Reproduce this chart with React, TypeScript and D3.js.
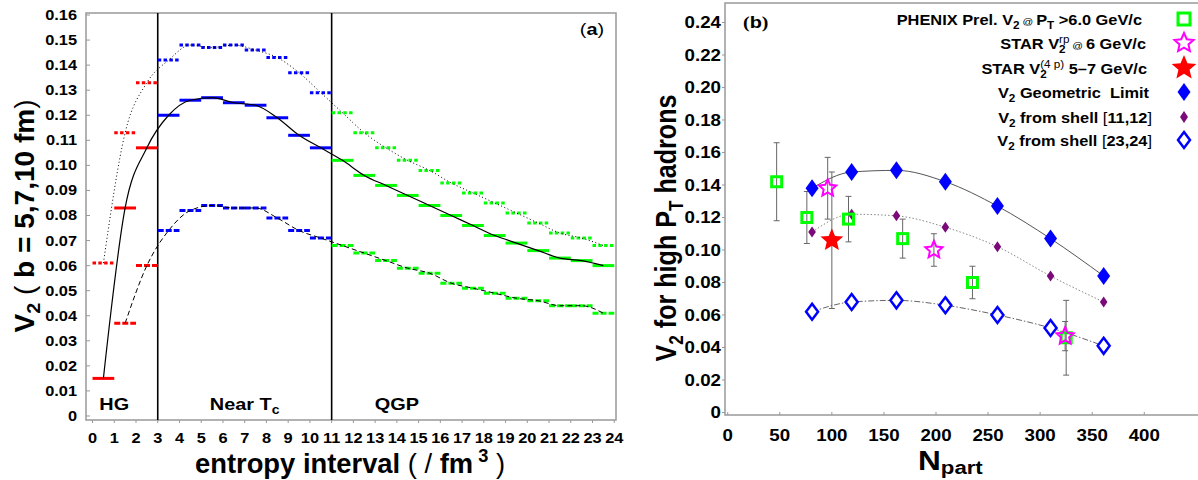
import React from 'react';
import * as d3 from 'd3';

const FONT = "'Liberation Sans', Arial, Helvetica, sans-serif";
const SX = 1.17;

// ---------- Panel (a) data ----------
const intervals = [0, 1, 2, 3, 4, 5, 6, 7, 8, 9, 10, 11, 12, 13, 14, 15, 16, 17, 18, 19, 20, 21, 22, 23];
const v2b10 = [0.061, 0.113, 0.133, 0.142, 0.148, 0.147, 0.148, 0.146, 0.143, 0.137, 0.129, 0.121, 0.113, 0.107, 0.102, 0.098, 0.093, 0.089, 0.085, 0.081, 0.077, 0.073, 0.071, 0.068];
const v2b7 = [0.015, 0.083, 0.107, 0.120, 0.126, 0.127, 0.125, 0.124, 0.119, 0.112, 0.107, 0.102, 0.096, 0.092, 0.088, 0.084, 0.080, 0.076, 0.072, 0.069, 0.066, 0.063, 0.062, 0.060];
const v2b5 = [null, 0.037, 0.060, 0.074, 0.082, 0.084, 0.083, 0.083, 0.079, 0.074, 0.071, 0.068, 0.065, 0.062, 0.059, 0.057, 0.053, 0.051, 0.049, 0.047, 0.046, 0.044, 0.044, 0.041];
const phaseBounds = [3, 11];
const phaseLabelPos = [1, 7, 14];
const xTicksA = [0, 1, 2, 3, 4, 5, 6, 7, 8, 9, 10, 11, 12, 13, 14, 15, 16, 17, 18, 19, 20, 21, 22, 23, 24];
const yTicksA = [0, 0.01, 0.02, 0.03, 0.04, 0.05, 0.06, 0.07, 0.08, 0.09, 0.10, 0.11, 0.12, 0.13, 0.14, 0.15, 0.16];

// ---------- Panel (b) data ----------
const npartModel = [81, 119, 162, 209, 259, 310, 361];
const v2Geo = [0.138, 0.148, 0.149, 0.142, 0.127, 0.107, 0.084];
const v2Shell1112 = [0.111, 0.122, 0.121, 0.114, 0.102, 0.084, 0.068];
const v2Shell2324 = [0.062, 0.068, 0.069, 0.066, 0.060, 0.052, 0.041];
const phenixN = [47, 76, 116, 168, 235, 325];
const phenixV = [0.142, 0.120, 0.119, 0.107, 0.080, 0.046];
const phenixErr = [0.024, 0.016, 0.014, 0.012, 0.010, 0.023];
const starRpN = [96, 198, 324];
const starRpV = [0.138, 0.100, 0.047];
const starRpErr = [0.019, 0.010, 0.009];
const star4pN = [100];
const star4pV = [0.106];
const star4pErr = [0.042];
const xTicksB = [0, 50, 100, 150, 200, 250, 300, 350, 400];
const yTicksB = [0, 0.02, 0.04, 0.06, 0.08, 0.10, 0.12, 0.14, 0.16, 0.18, 0.20, 0.22, 0.24];

// ---------- scales ----------
const A = { left: 86, right: 616, top: 13, bottom: 420 };
const xA = d3.scaleLinear().domain([-0.3, 24.08]).range([A.left, A.right]);
const yA = d3.scaleLinear().domain([-0.0016, 0.1608]).range([A.bottom, A.top]);

const B = { left: 725, right: 1200, top: 3, bottom: 415 };
const xB = d3.scaleLinear().domain([-2.6, 453.5]).range([B.left, B.right]);
const yB = d3.scaleLinear().domain([-0.00154, 0.252]).range([B.bottom, B.top]);

const RED = '#ff0000';
const BLUE = '#0000ff';
const GREEN = '#00ff00';
const MAGENTA = '#ff00ff';
const PURPLE = '#7a0a7a';

const phaseColor = (i: number) => (i < phaseBounds[0] ? RED : i < phaseBounds[1] ? BLUE : GREEN);

function T({ x, y, anchor = 'start', size = 14, weight = 'bold', fill = '#000', family = FONT, children }: any) {
  return (
    <g transform={`translate(${x},${y}) scale(${SX},1)`}>
      <text textAnchor={anchor} fontSize={size} fontWeight={weight} fontFamily={family} fill={fill}>
        {children}
      </text>
    </g>
  );
}

function diamond(cx: number, cy: number, hw: number, hh: number) {
  return `M${cx},${cy - hh}L${cx + hw},${cy}L${cx},${cy + hh}L${cx - hw},${cy}Z`;
}

function star(cx: number, cy: number, r: number, ratio = 0.45) {
  const pts: string[] = [];
  for (let k = 0; k < 10; k++) {
    const rr = k % 2 === 0 ? r : r * ratio;
    const a = -Math.PI / 2 + (k * Math.PI) / 5;
    pts.push(`${cx + rr * Math.cos(a)},${cy + rr * Math.sin(a)}`);
  }
  return 'M' + pts.join('L') + 'Z';
}

const seriesA = [
  { vals: v2b10, segDash: '3.5 2.3', lineDash: '1 2.5', lineW: 1 },
  { vals: v2b7, segDash: null, lineDash: null, lineW: 1.2 },
  { vals: v2b5, segDash: '6 2', lineDash: '5 3', lineW: 1 },
];

function PanelA() {
  const line = d3
    .line<number>()
    .defined((d: any) => d !== null)
    .x((_d, i) => xA(intervals[i] + 0.5))
    .y((d) => yA(d))
    .curve(d3.curveMonotoneX);
  return (
    <g>
      <rect x={A.left} y={A.top} width={A.right - A.left} height={A.bottom - A.top} fill="none" stroke="#999" strokeWidth={1.5} />
      {yTicksA.map((t) => (
        <g key={'ya' + t}>
          <line x1={A.left} x2={A.left + 4} y1={yA(t)} y2={yA(t)} stroke="#999" strokeWidth={1} />
          <T x={77} y={yA(t) + 5} anchor="end" size={14}>{t === 0 ? '0' : d3.format('.2f')(t)}</T>
        </g>
      ))}
      {xTicksA.map((t) => (
        <g key={'xa' + t}>
          <line x1={xA(t)} x2={xA(t)} y1={A.bottom} y2={A.bottom + 3} stroke="#999" strokeWidth={1} />
          <T x={xA(t)} y={443} anchor="middle" size={14}>{String(t)}</T>
        </g>
      ))}
      {phaseBounds.map((b) => (
        <line key={'pb' + b} x1={xA(b)} x2={xA(b)} y1={A.top} y2={A.bottom} stroke="#000" strokeWidth={1.6} />
      ))}
      {seriesA.map((s, si) =>
        s.vals.map((v, i) =>
          v === null ? null : (
            <line
              key={`seg${si}-${i}`}
              x1={xA(intervals[i])}
              x2={xA(intervals[i] + 1)}
              y1={yA(v)}
              y2={yA(v)}
              stroke={phaseColor(intervals[i])}
              strokeWidth={3}
              strokeDasharray={s.segDash || undefined}
            />
          )
        )
      )}
      {seriesA.map((s, si) => (
        <path
          key={'ln' + si}
          d={line(s.vals as any) || ''}
          fill="none"
          stroke="#000"
          strokeWidth={s.lineW}
          strokeDasharray={s.lineDash || undefined}
        />
      ))}
      <T x={xA(phaseLabelPos[0])} y={410} anchor="middle" size={17}>HG</T>
      <T x={xA(phaseLabelPos[1])} y={410} anchor="middle" size={17}>
        Near T<tspan fontSize={12} dy={4}>c</tspan>
      </T>
      <T x={xA(phaseLabelPos[2])} y={410} anchor="middle" size={17}>QGP</T>
      <T x={592} y={35} anchor="middle" size={17}>
        <tspan fontWeight="normal">(</tspan>a<tspan fontWeight="normal">)</tspan>
      </T>
      <text
        transform={`translate(34,216) rotate(-90)`}
        textAnchor="middle"
        fontFamily={FONT}
        fontWeight="bold"
        fontSize={27}
        textLength={233}
        lengthAdjust="spacingAndGlyphs"
      >
        V<tspan fontSize={19} dy={6}>2</tspan>
        <tspan dy={-6} fontWeight="normal"> ( </tspan>b = 5,7,10 fm<tspan fontWeight="normal">)</tspan>
      </text>
      <text
        x={350}
        y={473}
        textAnchor="middle"
        fontFamily={FONT}
        fontWeight="bold"
        fontSize={27}
        textLength={310}
        lengthAdjust="spacingAndGlyphs"
      >
        entropy interval <tspan fontWeight="normal">( / </tspan>fm<tspan fontSize={18} dy={-11}> 3</tspan>
        <tspan dy={11} fontWeight="normal"> )</tspan>
      </text>
    </g>
  );
}

function PanelB() {
  const mk = (vals: number[]) =>
    d3
      .line<number>()
      .x((_d, i) => xB(npartModel[i]))
      .y((d) => yB(d))
      .curve(d3.curveMonotoneX)(vals) || '';
  const errBar = (n: number, v: number, e: number, key: string) => (
    <g key={key} stroke="#666" strokeWidth={1}>
      <line x1={xB(n)} x2={xB(n)} y1={yB(v + e)} y2={yB(v - e)} />
      <line x1={xB(n) - 3} x2={xB(n) + 3} y1={yB(v + e)} y2={yB(v + e)} />
      <line x1={xB(n) - 3} x2={xB(n) + 3} y1={yB(v - e)} y2={yB(v - e)} />
    </g>
  );
  const legendY = [19, 43, 68, 92, 117, 140];
  const LX = 1184;
  const LT = 1147;
  return (
    <g>
      <path
        d={`M${B.right},${B.top}L${B.left},${B.top}L${B.left},${B.bottom}L${B.right},${B.bottom}`}
        fill="none"
        stroke="#999"
        strokeWidth={1.5}
      />
      {yTicksB.map((t) => (
        <g key={'yb' + t}>
          <line x1={B.left - 3} x2={B.left} y1={yB(t)} y2={yB(t)} stroke="#999" />
          <T x={721} y={yB(t) + 6} anchor="end" size={16}>{t === 0 ? '0' : d3.format('.2f')(t)}</T>
        </g>
      ))}
      {xTicksB.map((t) => (
        <g key={'xb' + t}>
          <line x1={xB(t)} x2={xB(t)} y1={B.bottom} y2={B.bottom - 3} stroke="#999" />
          <T x={xB(t)} y={441} anchor="middle" size={16}>{String(t)}</T>
        </g>
      ))}
      <path d={mk(v2Geo)} fill="none" stroke="#555" strokeWidth={1} />
      <path d={mk(v2Shell1112)} fill="none" stroke="#888" strokeWidth={1} strokeDasharray="1.5 2" />
      <path d={mk(v2Shell2324)} fill="none" stroke="#666" strokeWidth={1} strokeDasharray="6 2 1.5 2" />
      {phenixN.map((n, i) => errBar(n, phenixV[i], phenixErr[i], 'pe' + i))}
      {starRpN.map((n, i) => errBar(n, starRpV[i], starRpErr[i], 'se' + i))}
      {star4pN.map((n, i) => errBar(n, star4pV[i], star4pErr[i], 's4e' + i))}
      {npartModel.map((n, i) => (
        <path key={'sh2' + i} d={diamond(xB(n), yB(v2Shell2324[i]), 6, 8)} fill="#fff" stroke={BLUE} strokeWidth={2.5} />
      ))}
      {npartModel.map((n, i) => (
        <path key={'sh1' + i} d={diamond(xB(n), yB(v2Shell1112[i]), 3.8, 5.5)} fill={PURPLE} />
      ))}
      {npartModel.map((n, i) => (
        <path key={'geo' + i} d={diamond(xB(n), yB(v2Geo[i]), 6.5, 9)} fill={BLUE} />
      ))}
      {phenixN.map((n, i) => (
        <rect key={'ph' + i} x={xB(n) - 5} y={yB(phenixV[i]) - 5} width={10} height={10} fill="none" stroke={GREEN} strokeWidth={3} />
      ))}
      {starRpN.map((n, i) => (
        <path key={'sr' + i} d={star(xB(n), yB(starRpV[i]), 9, 0.47)} fill="none" stroke={MAGENTA} strokeWidth={2} />
      ))}
      {star4pN.map((n, i) => (
        <path key={'s4' + i} d={star(xB(n), yB(star4pV[i]), 12, 0.45)} fill={RED} />
      ))}
      <T x={743} y={28} size={17} family="'Liberation Serif', 'Times New Roman', serif">
        (<tspan fontWeight="bold" fontFamily={FONT}>b</tspan>)
      </T>
      <T x={LT - 5} y={legendY[0] + 6} anchor="end" size={14}>
        PHENIX Prel. V<tspan fontSize={10} dy={4}>2</tspan>
        <tspan dy={-4} fontSize={9} fontWeight="normal"> @ </tspan>P<tspan fontSize={10} dy={4}>T</tspan>
        <tspan dy={-4}> &gt;6.0 GeV/c</tspan>
      </T>
      <T x={LT - 1} y={legendY[1] + 6} anchor="end" size={14}>
        STAR V<tspan fontSize={10} dy={4}>2</tspan>
        <tspan fontSize={10} dx={-5.6} dy={-10} fontWeight="normal">rp</tspan>
        <tspan dy={6} fontSize={9} fontWeight="normal"> @ </tspan>
        <tspan>6 GeV/c</tspan>
      </T>
      <T x={LT} y={legendY[2] + 6} anchor="end" size={14}>
        STAR V<tspan fontSize={10} dy={4}>2</tspan>
        <tspan fontSize={10} dx={-5.6} dy={-10} fontWeight="normal">(4 p)</tspan>
        <tspan dy={6}> 5–7 GeV/c</tspan>
      </T>
      <T x={LT + 2} y={legendY[3] + 6} anchor="end" size={14}>
        V<tspan fontSize={10} dy={4}>2</tspan>
        <tspan dy={-4}>{' Geometric\u00a0 Limit'}</tspan>
      </T>
      <T x={LT + 5} y={legendY[4] + 6} anchor="end" size={14}>
        V<tspan fontSize={10} dy={4}>2</tspan>
        <tspan dy={-4}> from shell </tspan><tspan fontWeight="normal">[</tspan>11,12<tspan fontWeight="normal">]</tspan>
      </T>
      <T x={LT + 5} y={legendY[5] + 6} anchor="end" size={14}>
        V<tspan fontSize={10} dy={4}>2</tspan>
        <tspan dy={-4}> from shell </tspan><tspan fontWeight="normal">[</tspan>23,24<tspan fontWeight="normal">]</tspan>
      </T>
      <rect x={LX - 6} y={legendY[0] - 6} width={12} height={12} fill="none" stroke={GREEN} strokeWidth={3} />
      <path d={star(LX, legendY[1], 10, 0.47)} fill="none" stroke={MAGENTA} strokeWidth={2} />
      <path d={star(LX, legendY[2], 13, 0.45)} fill={RED} />
      <path d={diamond(LX, legendY[3], 6.5, 9)} fill={BLUE} />
      <path d={diamond(LX, legendY[4], 4, 6)} fill={PURPLE} />
      <path d={diamond(LX, legendY[5], 6, 8)} fill="#fff" stroke={BLUE} strokeWidth={2.5} />
      <g transform={`translate(676,228) scale(${SX},1) rotate(-90)`}>
        <text textAnchor="middle" fontFamily={FONT} fontWeight="bold" fontSize={25} textLength={267} lengthAdjust="spacingAndGlyphs">
          V<tspan fontSize={17} dy={6}>2</tspan>
          <tspan dy={-6}> for high P</tspan>
          <tspan fontSize={17} dy={6}>T</tspan>
          <tspan dy={-6}> hadrons</tspan>
        </text>
      </g>
      <T x={918} y={470} size={27}>
        N<tspan fontSize={19} dy={4}>part</tspan>
      </T>
    </g>
  );
}

export default function App() {
  return (
    <svg width={1198} height={480} style={{ position: 'absolute', left: 0, top: 0, background: '#fff' }}>
      <rect x={0} y={0} width={1198} height={480} fill="#fff" />
      <PanelA />
      <PanelB />
    </svg>
  );
}
